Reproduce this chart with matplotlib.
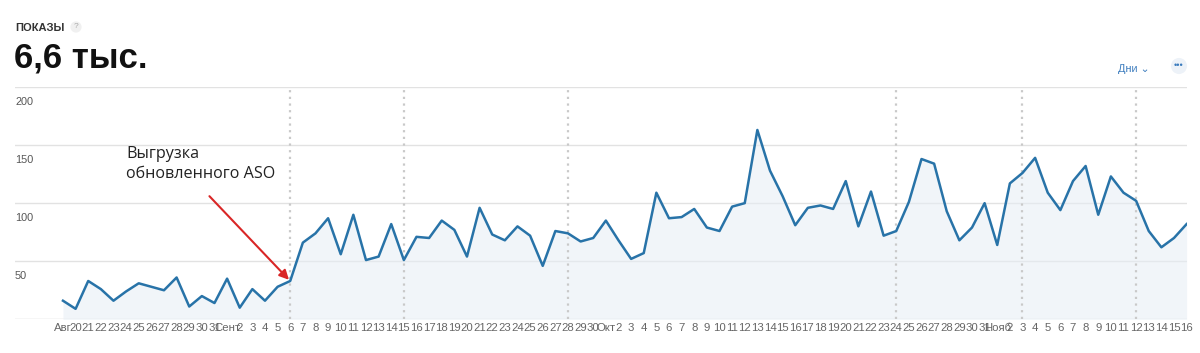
import matplotlib
matplotlib.use("Agg")
import matplotlib.pyplot as plt
import numpy as np

W, H = 1200, 353

# daily impressions, Aug 19 .. Nov 16
shows = [
    16, 9, 33, 26, 16, 24, 31, 28, 25, 36, 11, 20, 14, 35, 10, 26, 16, 28, 33,
    66, 74, 87, 56, 90, 51, 54, 82, 51, 71, 70, 85, 77, 54, 96, 73, 68, 80, 72,
    46, 76, 74, 67, 70, 85, 68, 52, 57, 109, 87, 88, 95, 79, 76, 97, 100, 163,
    128, 106, 81, 96, 98, 95, 119, 80, 110, 72, 76, 101, 138, 134, 93, 68, 79,
    100, 64, 117, 126, 139, 109, 94, 119, 132, 90, 123, 109, 102, 76, 62, 70, 82,
]

aug = ["Авг"] + [str(d) for d in range(20, 32)]
sep = ["Сент"] + [str(d) for d in range(2, 31)]
oct_ = ["Окт"] + [str(d) for d in range(2, 32)]
nov = ["Нояб"] + [str(d) for d in range(2, 17)]
day_labels = aug + sep + oct_ + nov

# app version release markers (dotted verticals)
release_idx = [18, 27, 40, 66, 76, 85]

y_ticks = [50, 100, 150, 200]

FONT = "Liberation Sans"
LINE = "#2873a8"

fig = plt.figure(figsize=(W / 100, H / 100), dpi=100)
fig.patch.set_facecolor("white")

top, bottom = 87, 319.3
ax = fig.add_axes([15 / W, (H - bottom) / H, 1172 / W, (bottom - top) / H])

x = np.arange(len(shows))
ax.fill_between(x, shows, 0, color="#e6edf5", alpha=0.55, lw=0, zorder=1)
ax.plot(x, shows, color=LINE, lw=1.8, zorder=4)

ax.set_xlim(-3.8, 89.03)
ax.set_ylim(0, 200)

for v in y_ticks:
    ax.axhline(v, color="#e2e2e2", lw=1, zorder=0)
    ax.annotate(str(v), xy=(0, v), xycoords=ax.get_yaxis_transform(),
                xytext=(0, -15), textcoords="offset pixels",
                ha="left", va="center", fontsize=7.8, color="#555555",
                family=FONT)
ax.axhline(0, color="#d6d6d6", lw=1, zorder=0)

for idx in release_idx:
    ax.axvline(idx, color="#c9c9c9", lw=1.6, ls=(0, (1, 2)), zorder=2)

for s in ax.spines.values():
    s.set_visible(False)
ax.set_yticks([])
ax.set_xticks(x)
ax.set_xticklabels(day_labels, fontsize=8.2, color="#666666", family=FONT)
ax.tick_params(axis="x", length=0, pad=3)

# annotation
ax.text(5.0, 149.5, "Выгрузка\nобновленного ASO", ha="left", va="top",
        fontsize=11.6, color="#222222", family="Open Sans", linespacing=1.35)
ax.annotate("", xy=(17.9, 34), xytext=(11.6, 106),
            arrowprops=dict(arrowstyle="-|>", color="#d92626", lw=1.5,
                            mutation_scale=14, shrinkA=0, shrinkB=0))

# header
fig.text(15 / W, 1 - 28 / H, "ПОКАЗЫ", ha="left", va="center",
         fontsize=8, fontweight="bold", color="#333333", family=FONT)
fig.text(76 / W, 1 - 27 / H, "?", ha="center", va="center", fontsize=6,
         color="#aaaaaa", family=FONT,
         bbox=dict(boxstyle="circle,pad=0.25", fc="#f0f0f0", ec="none"))
fig.text(14 / W, 1 - 58 / H, "6,6 тыс.", ha="left", va="center",
         fontsize=25, fontweight="bold", color="#111111", family=FONT)

fig.text(1134 / W, 1 - 69 / H, "Дни ⌄", ha="center", va="center",
         fontsize=7.8, color="#3a7bbd", family=[FONT, "DejaVu Sans"])
fig.text(1179 / W, 1 - 66 / H, "•••", ha="center", va="center",
         fontsize=6.5, color="#3a7bbd", family=FONT,
         bbox=dict(boxstyle="circle,pad=0.35", fc="#edf2f8", ec="none"))

fig.savefig("out.png", dpi=100, facecolor="white")
